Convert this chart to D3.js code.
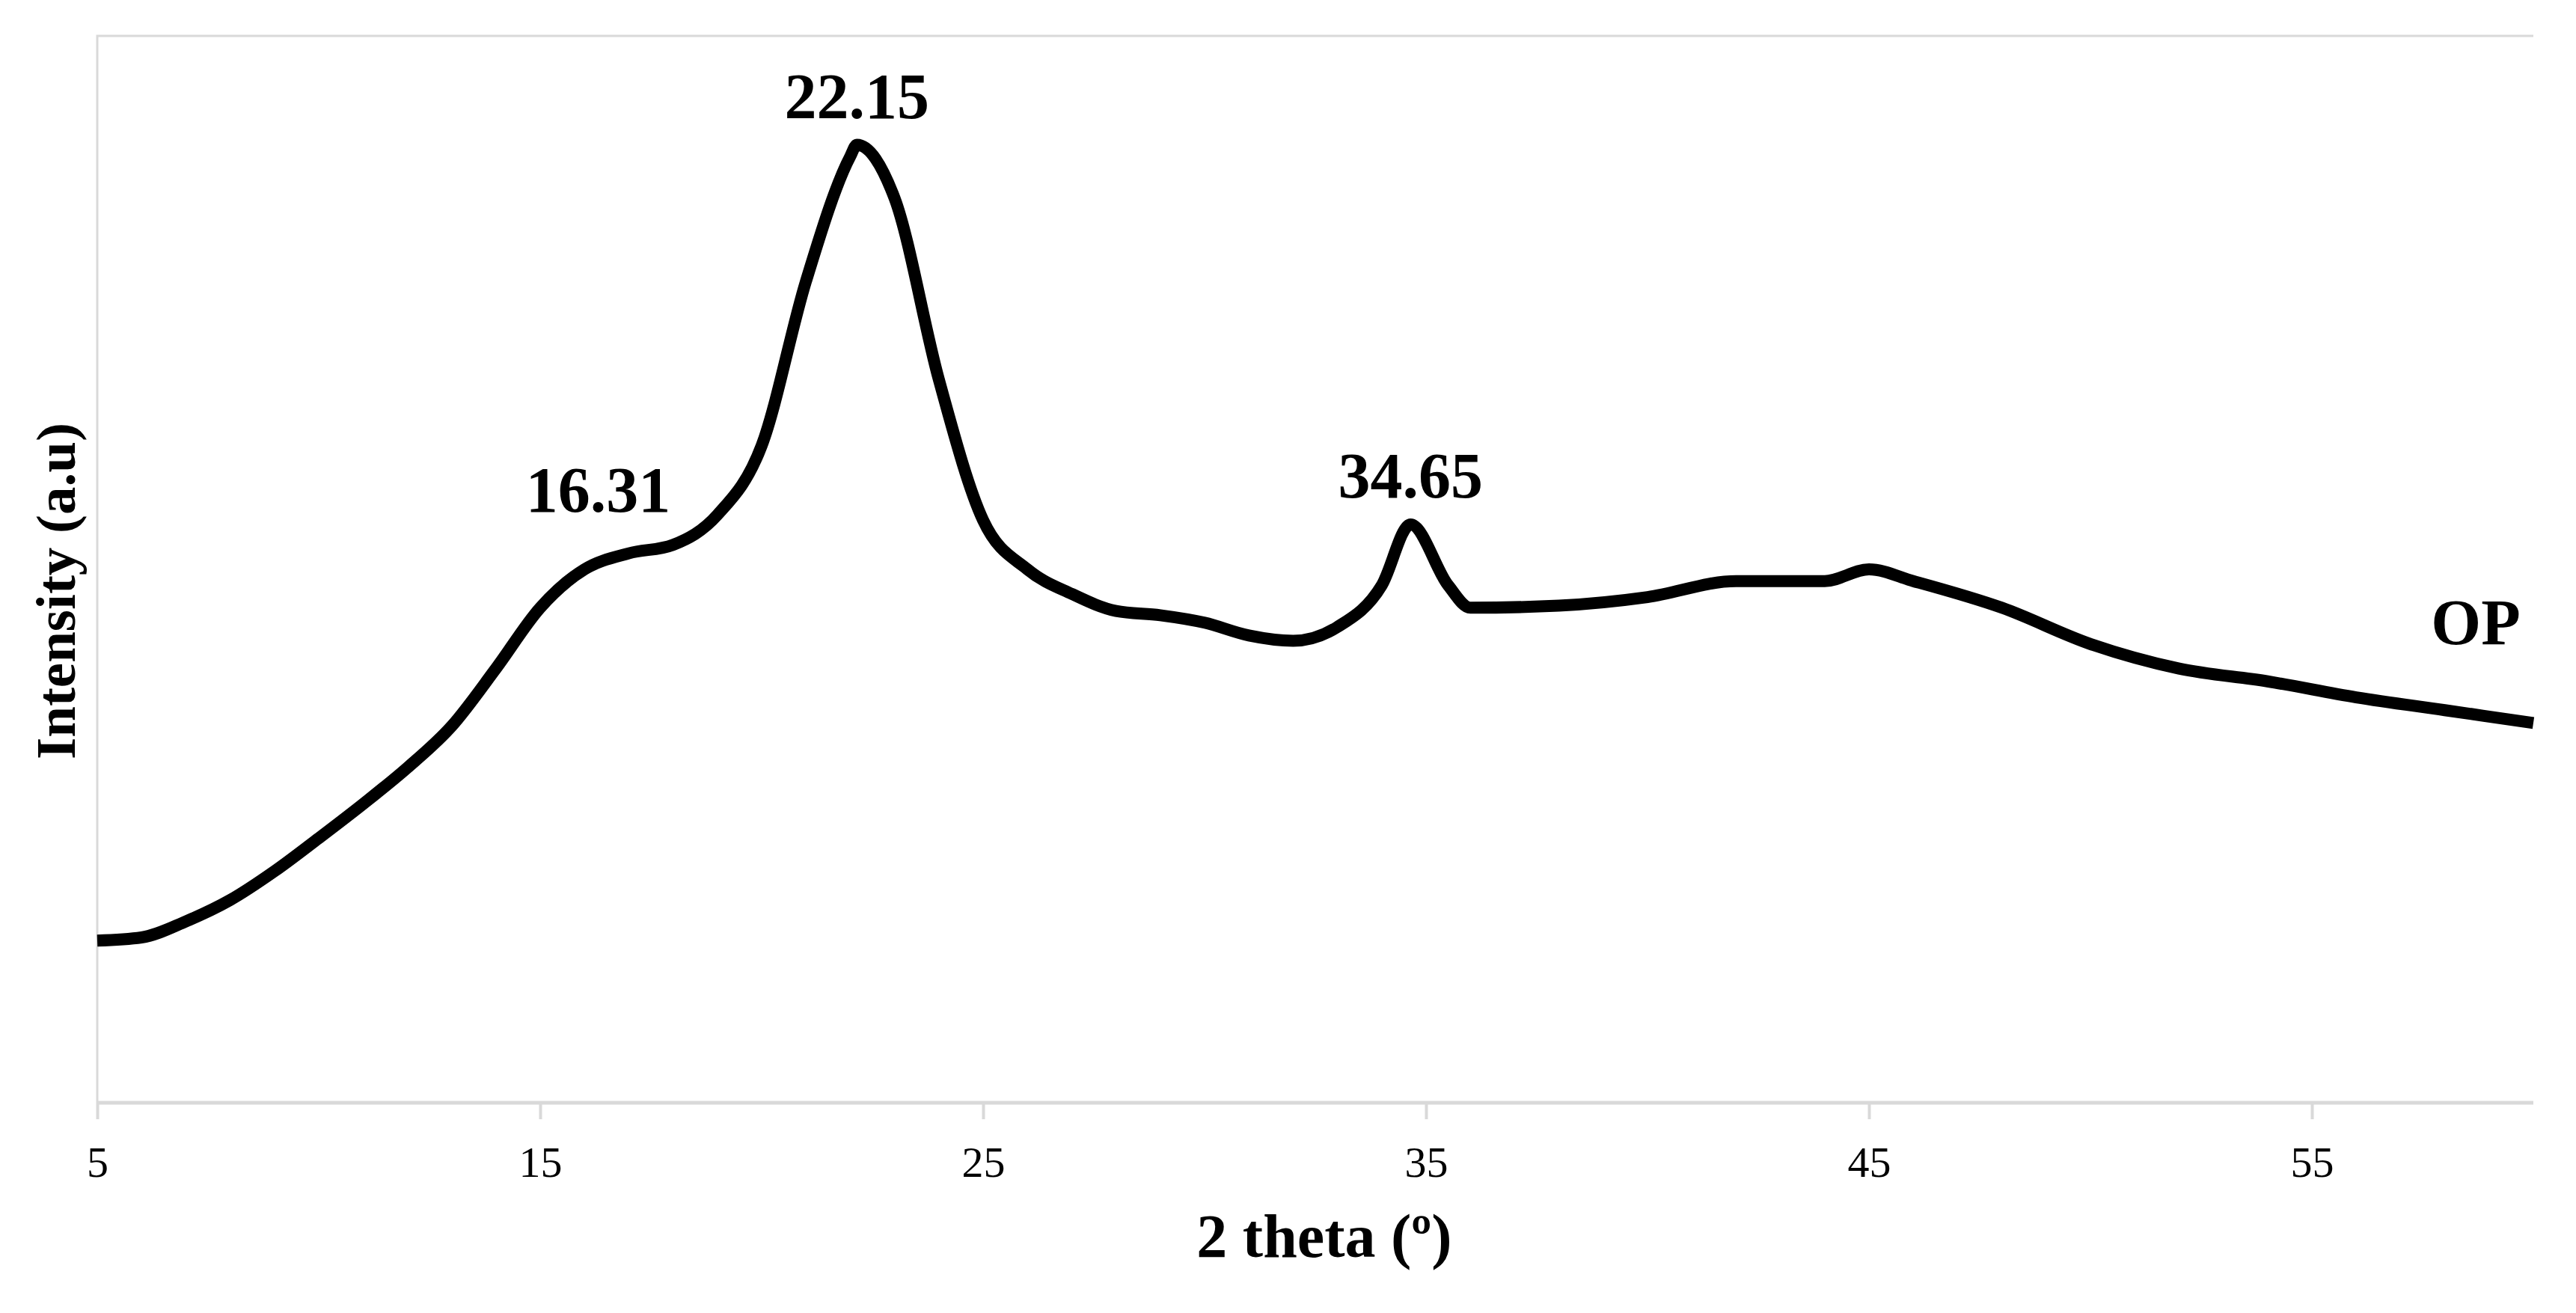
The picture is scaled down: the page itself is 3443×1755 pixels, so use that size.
<!DOCTYPE html>
<html>
<head>
<meta charset="utf-8">
<script src="https://cdn.jsdelivr.net/npm/d3@7"></script>
<style>
  body { margin: 0; background: #fff; }
  text { font-family: "Liberation Serif", "Times New Roman", serif; }
</style>
</head>
<body>
<div id="chart"></div>
<script>
// diffraction pattern (intensity in arbitrary units)
var theta = [5, 6, 7, 8, 9, 10, 11, 12, 13, 14, 15, 16, 17, 18, 19, 20, 21, 22, 22.15, 23, 24, 25,
             26, 27, 28, 29, 30, 31, 32, 33, 34, 34.65, 35.5, 36, 38, 40, 42, 44, 45, 46, 48,
             50, 52, 54, 56, 58, 60];
var intensity = [15.2, 15.5, 17, 19, 21.7, 24.8, 28, 31.4, 35.3, 40.7, 46.4, 50, 51.5, 52.3, 55.1,
                 61.6, 77, 88.7, 89.8, 84.8, 67.8, 54.6, 50, 47.7, 46.1, 45.7, 45, 43.8, 43.3, 44.6,
                 48.5, 54.2, 48.5, 46.4, 46.6, 47.4, 48.9, 48.9, 50, 48.9, 46.4, 43, 40.7, 39.5,
                 38, 36.8, 35.6];
var xTicks = [5, 15, 25, 35, 45, 55];
var peakLabels = [
    {text: "16.31", x: 16.31, y: 55.4},
    {text: "22.15", x: 22.15, y: 92.3},
    {text: "34.65", x: 34.65, y: 56.7}
];
var seriesName = "OP";

var width = 3443, height = 1755;
var margin = {top: 48, right: 57, bottom: 281, left: 130};

var svg = d3.select("#chart").append("svg")
    .attr("width", width)
    .attr("height", height);

var xScale = d3.scaleLinear()
    .domain([5, 60])
    .range([margin.left, margin.left + 5.5 * 592]);

var yScale = d3.scaleLinear()
    .domain([0, 100])
    .range([height - margin.bottom, margin.top]);

// plot frame (light grey, top and left)
svg.append("path")
    .attr("d", "M" + margin.left + "," + (height - margin.bottom)
        + "V" + margin.top + "H" + (width - margin.right))
    .attr("fill", "none")
    .attr("stroke", "#d9d9d9")
    .attr("stroke-width", 3);

var xAxis = d3.axisBottom(xScale)
    .tickValues(xTicks)
    .tickSize(22)
    .tickSizeOuter(0)
    .tickPadding(36);

var gx = svg.append("g")
    .attr("transform", "translate(0," + (height - margin.bottom) + ")")
    .call(xAxis);
gx.select(".domain")
    .attr("d", "M" + margin.left + ",0H" + (width - margin.right))
    .attr("stroke", "#d9d9d9").attr("stroke-width", 5);
gx.selectAll(".tick line").attr("stroke", "#d9d9d9").attr("stroke-width", 4);
gx.selectAll(".tick text")
    .attr("font-family", "Liberation Serif")
    .attr("font-size", 58)
    .attr("fill", "#000");

var line = d3.line()
    .x(function(d, i) { return xScale(theta[i]); })
    .y(function(d) { return yScale(d); })
    .curve(d3.curveMonotoneX);

svg.append("path")
    .datum(intensity)
    .attr("d", line)
    .attr("fill", "none")
    .attr("stroke", "#000")
    .attr("stroke-width", 16)
    .attr("stroke-linejoin", "round");

svg.selectAll("text.peak")
    .data(peakLabels)
    .enter().append("text")
    .attr("class", "peak")
    .attr("x", d => xScale(d.x))
    .attr("y", d => yScale(d.y))
    .attr("text-anchor", "middle")
    .attr("font-size", 86)
    .attr("font-weight", "bold")
    .text(d => d.text);

svg.append("text")
    .attr("x", xScale(58.7))
    .attr("y", yScale(43))
    .attr("text-anchor", "middle")
    .attr("font-size", 86)
    .attr("font-weight", "bold")
    .text(seriesName);

svg.append("text")
    .attr("x", 1770)
    .attr("y", 1680)
    .attr("text-anchor", "middle")
    .attr("font-size", 82)
    .attr("font-weight", "bold")
    .text("2 theta (º)");

svg.append("text")
    .attr("transform", "translate(100, 790) rotate(-90)")
    .attr("text-anchor", "middle")
    .attr("font-size", 75)
    .attr("font-weight", "bold")
    .text("Intensity (a.u)");
</script>
</body>
</html>
